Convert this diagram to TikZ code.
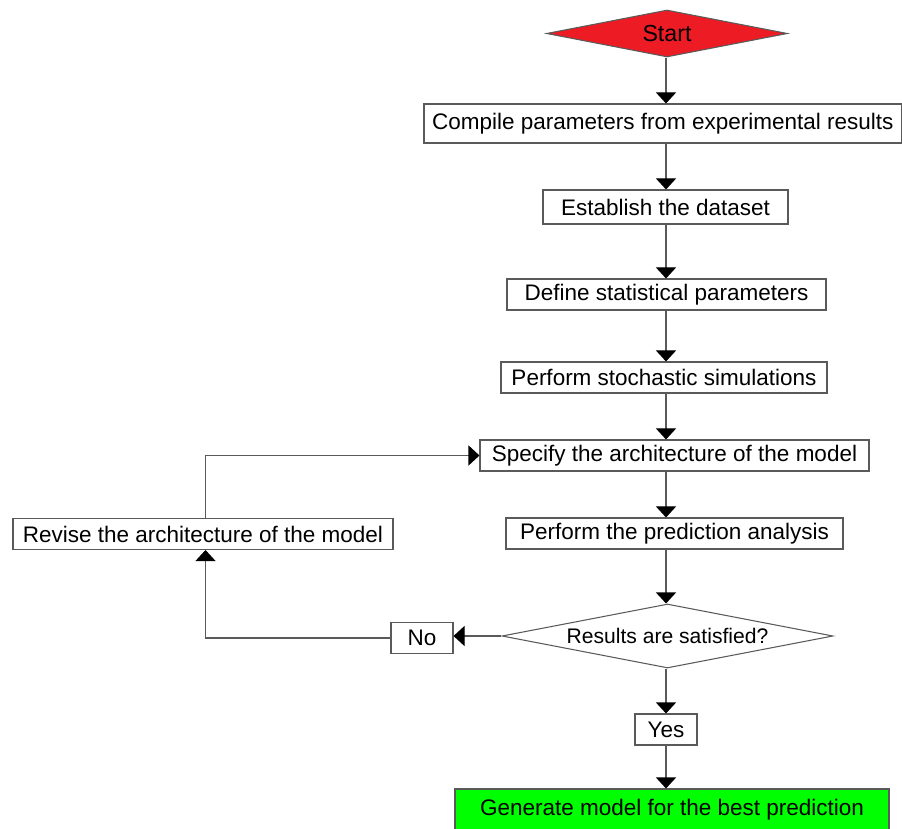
\documentclass[tikz,border=0pt]{standalone}
\usepackage{fontspec}
\setmainfont{Liberation Sans}
\usepackage{tikz}
\usetikzlibrary{shapes.geometric, arrows.meta, positioning}

\definecolor{startred}{RGB}{237,28,36}
\definecolor{bestgreen}{RGB}{0,255,0}
\definecolor{linegray}{RGB}{90,90,90}

\begin{document}
\begin{tikzpicture}[
        % Process steps: white fill, thin gray border, sharp corners
        stepbox/.style = {rectangle, draw=linegray, fill=white, line width=0.6pt,
                          inner sep=0pt, align=center,
                          font=\fontsize{12.8}{15}\selectfont},
        % Decisions: flat diamonds
        decision/.style = {diamond, draw=linegray, line width=0.6pt, inner sep=0pt,
                           aspect=5, font=\fontsize{12}{14}\selectfont},
        % Arrows: gray line, black filled triangle
        arrow/.style = {draw=linegray, line width=0.6pt,
                        -{Triangle[width=0.4cm, length=0.22cm, color=black]}}
    ]
    \useasboundingbox (0,0) rectangle (18.04,-16.58);

    % --- Main column ---
    \coordinate (col) at (13.32,0);
    \node[decision, fill=startred, minimum width=4.82cm, minimum height=0.94cm,
          font=\fontsize{13.2}{15}\selectfont] (start) at (13.34,-0.67) {Start};
    \node[stepbox, minimum width=9.55cm, minimum height=0.78cm] (compile) at (13.255,-2.47) {Compile parameters from experimental results};
    \node[stepbox, minimum width=4.90cm, minimum height=0.68cm] (dataset) at (13.31,-4.14) {Establish the dataset};
    \node[stepbox, minimum width=6.38cm, minimum height=0.62cm] (statpar) at (13.33,-5.89) {Define statistical parameters};
    \node[stepbox, minimum width=6.52cm, minimum height=0.62cm] (stoch) at (13.28,-7.55) {Perform stochastic simulations};
    \node[stepbox, minimum width=7.78cm, minimum height=0.62cm] (specify) at (13.49,-9.11) {Specify the architecture of the model};
    \node[stepbox, minimum width=6.74cm, minimum height=0.62cm] (predict) at (13.49,-10.67) {Perform the prediction analysis};
    \node[decision, fill=white, minimum width=6.62cm, minimum height=1.28cm] (check) at (13.35,-12.72) {Results are satisfied?};
    \node[stepbox, minimum width=1.24cm, minimum height=0.62cm] (yes) at (13.32,-14.59) {Yes};
    \node[stepbox, fill=bestgreen, minimum width=8.68cm, minimum height=0.84cm] (best) at (13.44,-16.20) {Generate model for the best prediction};

    % --- Feedback loop ---
    \node[stepbox, minimum width=1.24cm, minimum height=0.62cm] (no) at (8.44,-12.76) {No};
    \node[stepbox, minimum width=7.6cm, minimum height=0.62cm] (revise) at (4.06,-10.68) {Revise the architecture of the model};
    \coordinate (loop) at (4.11,0);

    % --- Edges (Arrows) ---
    \draw[arrow] (start.south -| col) -- (compile.north -| col);
    \draw[arrow] (compile.south -| col) -- (dataset.north -| col);
    \draw[arrow] (dataset.south -| col) -- (statpar.north -| col);
    \draw[arrow] (statpar.south -| col) -- (stoch.north -| col);
    \draw[arrow] (stoch.south -| col) -- (specify.north -| col);
    \draw[arrow] (specify.south -| col) -- (predict.north -| col);
    \draw[arrow] (predict.south -| col) -- (check.north -| col);
    \draw[arrow] (check.south -| col) -- (yes.north -| col);
    \draw[arrow] (yes.south -| col) -- (best.north -| col);

    % No branch back to the model
    \draw[arrow] (check.west) -- (check.west -| no.east);
    \draw[arrow] (no.west) -| (revise.south -| loop);
    \draw[arrow] (revise.north -| loop) |- (specify.west);

\end{tikzpicture}
\end{document}
